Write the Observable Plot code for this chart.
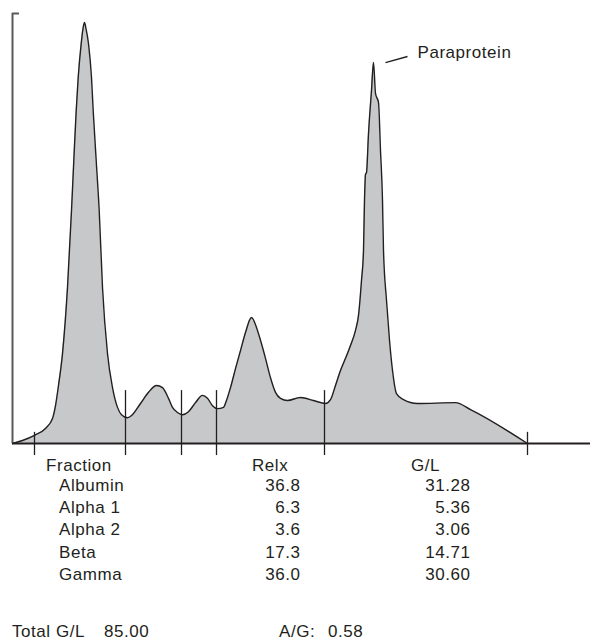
<!DOCTYPE html>
<html>
<head>
<meta charset="utf-8">
<script src="https://cdn.jsdelivr.net/npm/d3@7"></script>
<script src="https://cdn.jsdelivr.net/npm/@observablehq/plot@0.6"></script>
<style>
  html, body { margin: 0; padding: 0; background: #fff; }
  #wrap { position: relative; width: 594px; height: 643px; overflow: hidden;
          font-family: "Liberation Sans", Arial, sans-serif; font-size: 17px;
          letter-spacing: 0.55px; color: #231f20; }
  #chart { position: absolute; left: 0; top: 0; }
  .cell { position: absolute; line-height: 22px; white-space: pre; }
  .r { text-align: right; }
</style>
</head>
<body>
<div id="wrap"><div id="chart"></div></div>
<script>
// densitometer trace: migration position vs. optical density (relative units)
const traceX = [0,10,22,33,40,43,46,50,55,59,61.3,63.7,65.7,68.7,70.5,72,73.5,76,79,80.7,83.7,86.7,90,95,100,105,109,115,119,128,136,144,150,156,160,165,170,176,183,190,195,200,205,211,214,218,223,228,233,239,244,248,253,258,263,268,275,288,301,313,318,323,328,333,338,343,346,349,351,352,353,354,356,359,361,363,366,368,370,371,374,377,380,384,391,405,443,458,515];
const traceY = [0,0.7,1.9,3.5,5.8,8.8,13.5,20.9,36.3,54.2,65.8,77.4,85.1,93.0,96.5,97.9,96.5,93.0,85.1,77.4,65.8,54.2,36.3,20.9,13.0,8.4,6.7,6.0,6.5,9.3,11.9,13.5,13.0,10.5,8.4,7.2,6.7,7.4,9.5,11.2,10.5,8.8,8.1,8.4,10.0,13.0,17.4,21.6,25.8,29.3,27.0,24.0,19.8,15.3,11.9,10.5,10.0,10.7,10.0,9.3,10.2,13.5,17.0,19.8,22.8,26.3,29.8,37.9,44.9,56.5,62.6,63.0,72.1,82.1,88.6,81.4,79.3,68.1,56.5,44.9,33.3,24.0,17.0,11.6,10.2,9.3,9.5,7.9,0];

// fraction boundaries (same units as traceX)
const boundaries = [22, 113, 169, 204, 312, 515];

// table
const fractions = ["Albumin", "Alpha 1", "Alpha 2", "Beta", "Gamma"];
const relx = ["36.8", "6.3", "3.6", "17.3", "36.0"];
const gl = ["31.28", "5.36", "3.06", "14.71", "30.60"];
const headers = ["Fraction", "Relx", "G/L"];
const totalGL = "85.00";
const agRatio = "0.58";

// annotation
const annoText = ["Paraprotein"];
const annoLink = [{x1: 373, y1: 88.6, x2: 395, y2: 90.0}];
const annoPos = [{x: 405, y: 91.0}];

const trace = traceX.map((x, i) => ({x, y: traceY[i]}));
const ink = "#231f20";

const chart = Plot.plot({
  width: 594,
  height: 470,
  marginLeft: 12,
  marginRight: 4,
  marginTop: 13,
  marginBottom: 27,
  x: {domain: [0, 578], axis: null},
  y: {domain: [0, 100], axis: null},
  style: {fontFamily: "'Liberation Sans', Arial, sans-serif", fontSize: "17px", letterSpacing: "0.55px", color: ink, background: "transparent"},
  marks: [
    Plot.areaY(trace, {x: "x", y: "y", fill: "#c7c8ca", curve: "monotone-x"}),
    Plot.lineY(trace, {x: "x", y: "y", stroke: ink, strokeWidth: 1.4, curve: "monotone-x"}),
    Plot.ruleX([0], {y1: 0, y2: 100, stroke: "#58595b", strokeWidth: 2}),
    Plot.ruleY([100], {x1: 0, x2: 7, stroke: "#58595b", strokeWidth: 2}),
    Plot.ruleX(boundaries, {
      x: d => d,
      y1: (d, i) => (i === 0 || i === boundaries.length - 1) ? 2.6 : 12.3,
      y2: -2.8,
      stroke: ink, strokeWidth: 1.3
    }),
    Plot.ruleY([0], {stroke: ink, strokeWidth: 2}),
    Plot.link(annoLink, {x1: "x1", y1: "y1", x2: "x2", y2: "y2", stroke: ink, strokeWidth: 1.3}),
    Plot.text(annoPos, {x: "x", y: "y", text: (d, i) => annoText[i], textAnchor: "start", lineAnchor: "middle", fill: ink, fontSize: 17})
  ]
});
document.getElementById("chart").appendChild(chart);

// table below the chart
const wrap = document.getElementById("wrap");
const base = 17.0; // baseline offset inside a 22px line box
function cell(text, left, baseline, width, right) {
  const d = document.createElement("div");
  d.className = "cell" + (right ? " r" : "");
  d.textContent = text;
  d.style.top = (baseline - base) + "px";
  if (right) { d.style.left = (left - width) + "px"; d.style.width = width + "px"; }
  else d.style.left = left + "px";
  wrap.appendChild(d);
}
cell(headers[0], 46, 472);
cell(headers[1], 252, 472);
cell(headers[2], 411, 472);
fractions.forEach((f, i) => {
  const b = 492 + i * 22.2;
  cell(f, 59, b);
  cell(relx[i], 300.5, b, 100, true);
  cell(gl[i], 470.5, b, 100, true);
});
cell("Total G/L", 12, 638);
cell(totalGL, 104, 638);
cell("A/G:", 279, 638);
cell(agRatio, 328, 638);
</script>
</body>
</html>
